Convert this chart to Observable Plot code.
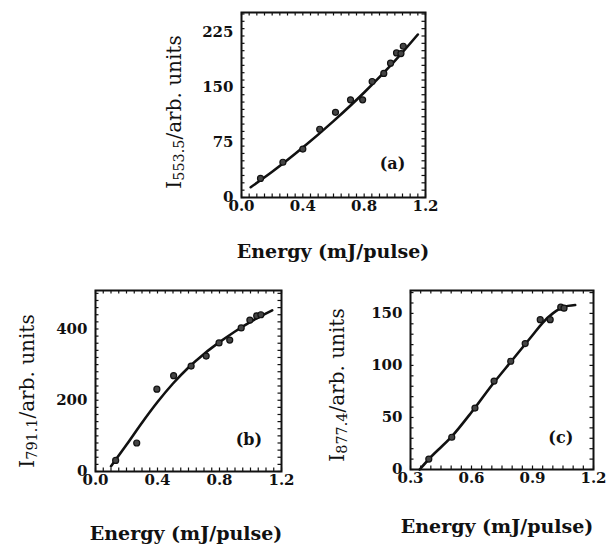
<!DOCTYPE html>
<html>
<head>
<meta charset="utf-8">
<script src="https://cdn.jsdelivr.net/npm/d3@7"></script>
<script src="https://cdn.jsdelivr.net/npm/@observablehq/plot@0.6"></script>
<style>
  html, body { margin: 0; padding: 0; background: #fff; }
  #root { position: relative; width: 607px; height: 546px; overflow: hidden; background: #fff; }
  .panel { position: absolute; }
  .ylab, .xlab { position: absolute; font-family: 'DejaVu Serif', serif; color: #111; white-space: nowrap; line-height: 1; }
  .ylab { font-size: 20px; transform: translate(-50%, -50%) rotate(-90deg); }
  .ylab sub { font-size: 0.72em; vertical-align: -0.25em; }
  .xlab { font-size: 19px; font-weight: bold; transform: translate(-50%, -50%); }
</style>
</head>
<body>
<div id="root"></div>
<script>
// ---- Panel (a): I553.5 vs energy ----
const aEnergy    = [0.124, 0.27, 0.40, 0.51, 0.613, 0.711, 0.79, 0.852, 0.928, 0.972, 1.011, 1.04, 1.055];
const aIntensity = [26, 48, 66, 93, 116, 133, 133, 158, 169, 183, 197, 196, 206];
const aFitEnergy    = [0.06, 0.2, 0.4, 0.6, 0.8, 1.0, 1.15];
const aFitIntensity = [14, 35, 68, 104, 143, 186, 222];
const aXTicks = [0.0, 0.4, 0.8, 1.2];
const aYTicks = [0, 75, 150, 225];

// ---- Panel (b): I791.1 vs energy ----
const bEnergy    = [0.13, 0.266, 0.396, 0.504, 0.617, 0.714, 0.797, 0.866, 0.94, 0.996, 1.04, 1.067];
const bIntensity = [31, 80, 231, 269, 296, 324, 361, 369, 403, 425, 437, 440];
const bFitEnergy    = [0.1, 0.2, 0.3, 0.4, 0.5, 0.6, 0.7, 0.8, 0.9, 1.0, 1.14];
const bFitIntensity = [15, 75, 137, 195, 247, 292, 330, 363, 393, 420, 452];
const bXTicks = [0.0, 0.4, 0.8, 1.2];
const bYTicks = [0, 200, 400];

// ---- Panel (c): I877.4 vs energy ----
const cEnergy    = [0.39, 0.503, 0.617, 0.711, 0.793, 0.864, 0.938, 0.987, 1.039, 1.055];
const cIntensity = [10, 31, 59, 85, 104, 121, 144, 144, 156, 155];
const cFitEnergy    = [0.345, 0.4, 0.5, 0.6, 0.7, 0.8, 0.9, 0.95, 1.0, 1.05, 1.11];
const cFitIntensity = [0, 12, 31, 55, 81, 105, 129, 141, 150, 156, 158];
const cXTicks = [0.3, 0.6, 0.9, 1.2];
const cYTicks = [0, 50, 100, 150];

const xTitle = "Energy (mJ/pulse)";
const serif = "'DejaVu Serif', serif";

function panel(o) {
  const pts = o.xs.map((x, i) => ({x, y: o.ys[i]}));
  const fit = o.fx.map((x, i) => ({x, y: o.fy[i]}));
  const minorX = d3.ticks(o.xDomain[0], o.xDomain[1], 24);
  const minorY = d3.ticks(o.yDomain[0], o.yDomain[1], 24);
  const ih = o.height - o.mt - o.mb;   // inner height
  const iw = o.width - o.ml - o.mr;    // inner width
  const tl = 3.5;                       // inward tick length
  const tk = {stroke: "#111", strokeWidth: 1.2};
  return Plot.plot({
    width: o.width, height: o.height,
    marginLeft: o.ml, marginRight: o.mr, marginTop: o.mt, marginBottom: o.mb,
    style: {fontFamily: serif, fontSize: "15px", fontWeight: "bold", color: "#111", background: "transparent", overflow: "visible"},
    x: {domain: o.xDomain},
    y: {domain: o.yDomain},
    marks: [
      Plot.tickX(minorX, {...tk, insetTop: ih - tl}),
      Plot.tickX(minorX, {...tk, insetBottom: ih - tl}),
      Plot.tickY(minorY, {...tk, insetRight: iw - tl}),
      Plot.tickY(minorY, {...tk, insetLeft: iw - tl}),
      Plot.axisX({anchor: "bottom", ticks: o.xTicks, tickFormat: d3.format(".1f"), tickSize: 0, tickPadding: 3, label: null}),
      Plot.axisY({anchor: "left", ticks: o.yTicks, tickFormat: d3.format("d"), tickSize: 0, tickPadding: 8, label: null}),
      Plot.frame({stroke: "#111", strokeWidth: 2}),
      Plot.line(fit, {x: "x", y: "y", curve: "monotone-x", stroke: "#111", strokeWidth: 2.6}),
      Plot.dot(pts, {x: "x", y: "y", r: 3, fill: "#444", stroke: "#111", strokeWidth: 1.2}),
      Plot.text([o.tag], {x: o.tagX, y: o.tagY, text: d => d, fontSize: 16, fontWeight: "bold", fill: "#111"})
    ]
  });
}

const root = document.getElementById("root");
function place(node, left, top) {
  node.classList.add("panel");
  node.style.left = left + "px";
  node.style.top = top + "px";
  root.appendChild(node);
}
function label(cls, html, x, y) {
  const d = document.createElement("div");
  d.className = cls;
  d.innerHTML = html;
  d.style.left = x + "px";
  d.style.top = y + "px";
  root.appendChild(d);
}

place(panel({xs: aEnergy, ys: aIntensity, fx: aFitEnergy, fy: aFitIntensity,
  xDomain: [0, 1.2], yDomain: [0, 252], xTicks: aXTicks, yTicks: aYTicks,
  tag: "(a)", tagX: 0.985, tagY: 46,
  width: 290, height: 222, ml: 91, mr: 15, mt: 12, mb: 25}), 150, 0);

place(panel({xs: bEnergy, ys: bIntensity, fx: bFitEnergy, fy: bFitIntensity,
  xDomain: [0, 1.2], yDomain: [0, 508], xTicks: bXTicks, yTicks: bYTicks,
  tag: "(b)", tagX: 0.99, tagY: 89,
  width: 300, height: 240, ml: 95, mr: 19, mt: 30, mb: 29}), 0, 260);

place(panel({xs: cEnergy, ys: cIntensity, fx: cFitEnergy, fy: cFitIntensity,
  xDomain: [0.3, 1.2], yDomain: [0, 172], xTicks: cXTicks, yTicks: cYTicks,
  tag: "(c)", tagX: 1.039, tagY: 30,
  width: 277, height: 240, ml: 80, mr: 14, mt: 30, mb: 31}), 330, 260);

label("ylab", "I<sub>553.5</sub>/arb. units", 175, 112);
label("ylab", "I<sub>791.1</sub>/arb. units", 28, 391);
label("ylab", "I<sub>877.4</sub>/arb. units", 338, 385);
label("xlab", xTitle, 333, 251);
label("xlab", xTitle, 186, 533);
label("xlab", xTitle, 497, 526);
</script>
</body>
</html>
